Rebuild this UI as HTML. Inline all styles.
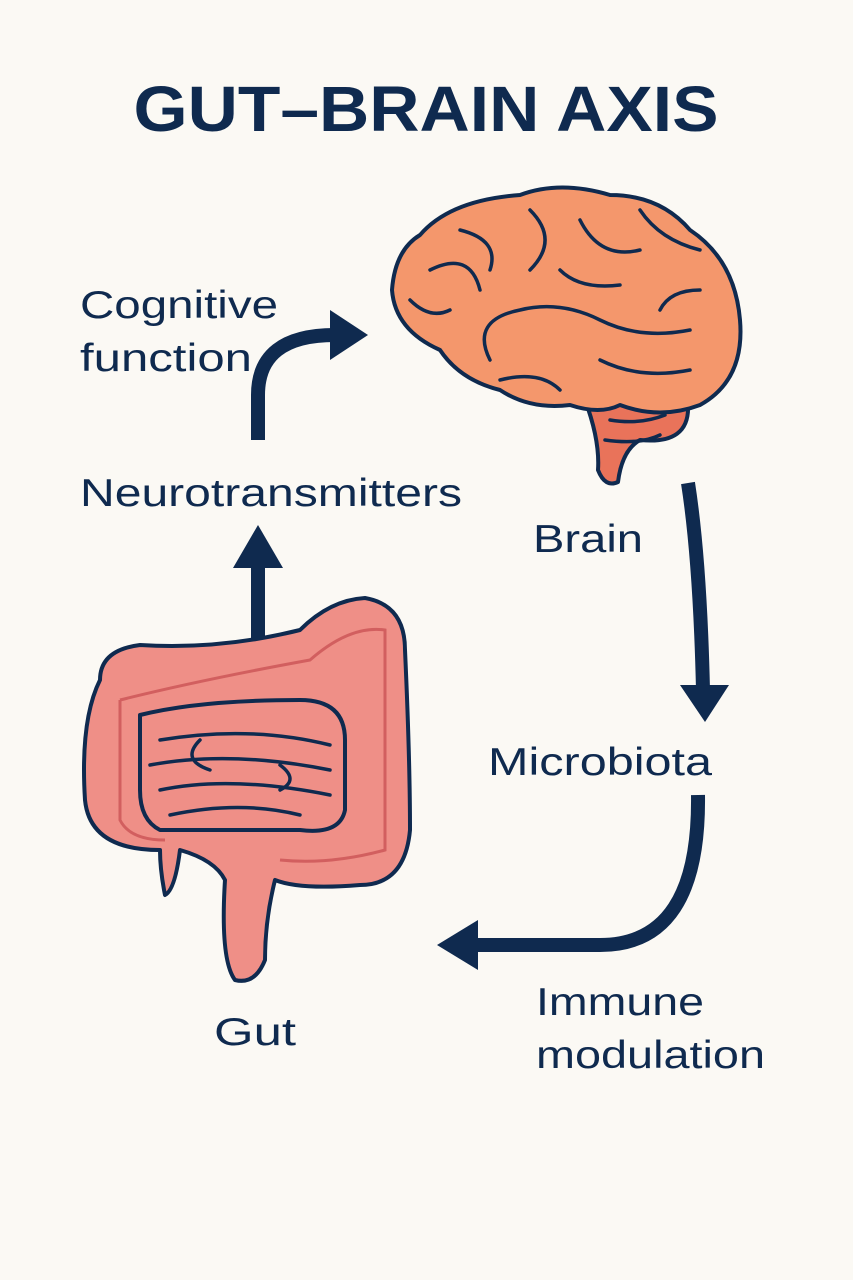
<!DOCTYPE html>
<html><head><meta charset="utf-8"><style>
html,body{margin:0;padding:0;background:#fbf9f4;}
body{width:853px;height:1280px;position:relative;overflow:hidden;font-family:"Liberation Sans",sans-serif;color:#0f2a4f;}
</style></head><body>
<svg width="853" height="1280" style="position:absolute;left:0;top:0">
<text x="426" y="131" text-anchor="middle" font-family="Liberation Sans, sans-serif" font-weight="bold" font-size="64" fill="#0f2a4f" textLength="585" lengthAdjust="spacingAndGlyphs">GUT–BRAIN AXIS</text>
<g font-family="Liberation Sans, sans-serif" font-size="39" fill="#0f2a4f" lengthAdjust="spacingAndGlyphs">
<text x="80" y="318" textLength="198" lengthAdjust="spacingAndGlyphs">Cognitive</text>
<text x="80" y="371" textLength="172" lengthAdjust="spacingAndGlyphs">function</text>
<text x="80" y="506" textLength="382" lengthAdjust="spacingAndGlyphs">Neurotransmitters</text>
<text x="533" y="552" textLength="110" lengthAdjust="spacingAndGlyphs">Brain</text>
<text x="488" y="775" textLength="224" lengthAdjust="spacingAndGlyphs">Microbiota</text>
<text x="536" y="1015" textLength="168" lengthAdjust="spacingAndGlyphs">Immune</text>
<text x="536" y="1068" textLength="229" lengthAdjust="spacingAndGlyphs">modulation</text>
<text x="214" y="1045" textLength="82" lengthAdjust="spacingAndGlyphs">Gut</text>
</g>
<g fill="none" stroke="#0f2a4f" stroke-width="14" stroke-linecap="butt">
<path d="M258 440 L258 395 Q258 335 335 335"/>
<path d="M258 640 L258 565"/>
<path d="M688 483 Q700 560 703 690"/>
<path d="M698 795 Q700 945 600 945 L475 945"/>
</g>
<g fill="#0f2a4f">
<polygon points="330,310 368,335 330,360"/>
<polygon points="233,568 258,525 283,568"/>
<polygon points="680,685 729,685 705,722"/>
<polygon points="478,920 478,970 437,945"/>
</g>
<g stroke="#0f2a4f" stroke-width="4" stroke-linejoin="round">
<path d="M585 400 Q600 440 598 470 Q605 488 618 482 Q622 450 640 440 Q690 445 688 405 Z" fill="#e9735a"/>
<path d="M420 235 Q450 200 520 195 Q560 180 610 195 Q660 195 690 230 Q735 260 740 320 Q745 380 700 405 Q660 420 620 405 Q600 415 570 405 Q530 410 500 390 Q460 380 440 350 Q395 330 392 290 Q395 250 420 235 Z" fill="#f4976c"/>
</g>
<g fill="none" stroke="#0f2a4f" stroke-width="3.5" stroke-linecap="round">
<path d="M490 360 Q470 320 520 310 Q560 300 600 320 Q640 340 690 330"/>
<path d="M430 270 Q470 250 480 290"/><path d="M460 230 Q500 240 490 270"/>
<path d="M530 210 Q560 240 530 270"/><path d="M580 220 Q600 260 640 250"/>
<path d="M640 210 Q660 240 700 250"/><path d="M700 290 Q670 290 660 310"/>
<path d="M500 380 Q540 370 560 390"/><path d="M600 360 Q640 380 690 370"/>
<path d="M410 300 Q430 320 450 310"/><path d="M560 270 Q580 290 620 285"/>
<path d="M610 420 Q640 425 665 415"/><path d="M605 440 Q640 445 660 435"/>
</g>
<g stroke="#0f2a4f" stroke-width="4" stroke-linejoin="round">
<path d="M100 680 Q100 650 140 645 Q220 650 300 630 Q330 600 365 598 Q405 605 405 650 Q410 760 410 830 Q405 885 360 885 Q300 890 275 880 Q265 920 265 960 Q255 985 235 980 Q220 960 225 880 Q215 860 180 850 Q175 890 165 895 Q160 870 160 850 Q90 850 85 800 Q80 720 100 680 Z" fill="#ef8f87"/>
<path d="M140 715 Q200 700 300 700 Q345 700 345 740 L345 810 Q340 835 300 830 L160 830 Q140 820 140 790 Z" fill="#ef8f87"/>
</g>
<g fill="none" stroke="#0f2a4f" stroke-width="3.5" stroke-linecap="round">
<path d="M160 740 Q250 725 330 745"/><path d="M150 765 Q230 750 330 770"/>
<path d="M160 790 Q230 775 330 795"/><path d="M170 815 Q240 800 300 815"/>
<path d="M200 740 Q180 760 210 770"/><path d="M280 765 Q300 780 280 790"/>
</g>
<g fill="none" stroke="#d25f5f" stroke-width="3">
<path d="M120 700 Q200 680 310 660 Q350 625 385 630 L385 850 Q330 865 280 860"/>
<path d="M120 700 L120 820 Q130 840 165 840"/>
</g>
</svg>
</body></html>
